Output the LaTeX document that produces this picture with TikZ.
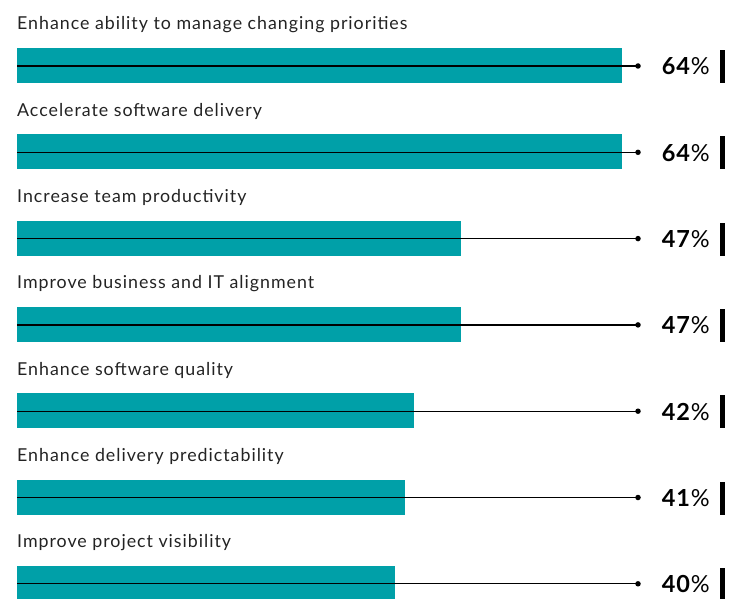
\documentclass[tikz,border=0pt]{standalone}
\usepackage{fontspec}
\setmainfont{Lato}
\newfontfamily\lblfont[LetterSpace=5.5]{Lato}
\newfontfamily\pctfont[LetterSpace=4]{Lato}
\definecolor{teal1}{RGB}{0,160,168}
\definecolor{ink}{RGB}{35,35,35}
\begin{document}
\begin{tikzpicture}[x=1pt,y=-1pt,
  lbl/.style={anchor=base west,inner sep=0pt,font=\lblfont\fontsize{17.8}{20}\selectfont,text=ink},
  pct/.style={anchor=base east,inner sep=0pt,font=\pctfont\fontsize{23.5}{26}\selectfont,text=black},
  barbox/.style={fill=teal1,draw=none},
  refline/.style={draw=black,line width=1.2pt},
  tick/.style={fill=black,draw=none},
  dotn/.style={circle,fill=black,inner sep=0pt,minimum size=5.5pt}]
\useasboundingbox (0,0) rectangle (731,599);
\begin{scope}
\clip (0,0) rectangle (731,599);
\foreach \i/\lab/\w/\p in {0/Enhance ability to manage changing priorities/622/64,
  1/Accelerate software delivery/622/64,
  2/Increase team productivity/461/47,
  3/Improve business and IT alignment/461/47,
  4/Enhance software quality/414/42,
  5/Enhance delivery predictability/405/41,
  6/Improve project visibility/395/40}{
  \pgfmathsetmacro{\yy}{66+86.3*\i}
  \node[lbl] (l\i) at (17,\yy-36) {\lab};
  \fill[teal1] (17,\yy-18) rectangle (\w,\yy+17);
  \coordinate (s\i) at (17,\yy);
  \node[dotn] (d\i) at (638,\yy) {};
  \draw[refline] (s\i) -- (d\i.center);
  \node[pct] (p\i) at (710,\yy+9) {\textbf{\p}\%};
  \fill[tick] (720,\yy-16) rectangle (724.5,\yy+17);
}
\end{scope}
\end{tikzpicture}
\end{document}
